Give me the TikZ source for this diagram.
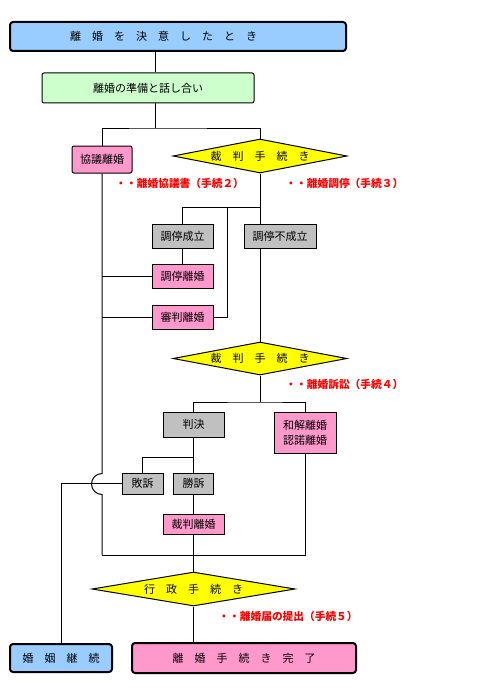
\documentclass[tikz,border=0pt]{standalone}
\usepackage{fontspec}
\setmainfont{Noto Sans CJK JP}
\usepackage{tikz}
\usetikzlibrary{
  shapes.geometric,
  positioning
}
\definecolor{divBlue}{RGB}{153,204,255}
\definecolor{divGreen}{RGB}{204,255,204}
\definecolor{divPink}{RGB}{255,153,204}
\definecolor{divGray}{RGB}{192,192,192}
\definecolor{divYellow}{RGB}{255,255,0}
\definecolor{divRed}{RGB}{255,0,0}

\begin{document}
\begin{tikzpicture}[
  x=1pt, y=1pt,
  line width=1pt,
  block/.style={
    draw,
    line width=1pt,
    inner sep=0pt,
    align=center,
    font=\fontsize{11}{15}\selectfont
  },
  endbox/.style={block, rounded corners=3pt, line width=2pt},
  softbox/.style={block, rounded corners=2pt},
  graybox/.style={block, fill=divGray},
  pinkbox/.style={block, fill=divPink},
  decision/.style={
    diamond,
    draw,
    line width=1pt,
    fill=divYellow,
    aspect=5,
    inner sep=0pt,
    minimum width=174pt,
    minimum height=34pt,
    font=\fontsize{11}{15}\selectfont
  },
  note/.style={
    anchor=west,
    inner sep=0pt,
    text=divRed,
    font=\fontsize{10.7}{12}\selectfont\bfseries
  }
]
\useasboundingbox (0,0) rectangle (480,-690);

\node[endbox, fill=divBlue, minimum width=336pt, minimum height=29pt] (start)
  at (178,-36.5) {\hspace*{-29pt}離　婚　を　決　意　し　た　と　き};
\node[softbox, fill=divGreen, minimum width=212pt, minimum height=30pt] (prep)
  at (148,-88) {離婚の準備と話し合い};
\node[softbox, fill=divPink, minimum width=60pt, minimum height=27pt] (kyogi)
  at (102,-159.5) {協議離婚};
\node[decision] (trial1) at (260,-156) {裁　判　手　続　き};

\node[graybox, minimum width=61pt, minimum height=24pt] (choteiok)
  at (182.5,-236) {調停成立};
\node[graybox, minimum width=72pt, minimum height=24pt] (choteing)
  at (280,-236) {調停不成立};
\node[pinkbox, minimum width=61pt, minimum height=24pt] (choteirikon)
  at (182.5,-276) {調停離婚};
\node[pinkbox, minimum width=61pt, minimum height=24pt] (shinpan)
  at (182.5,-317) {審判離婚};

\node[decision, minimum height=33pt] (trial2) at (260,-358.5) {裁　判　手　続　き};

\node[graybox, minimum width=61pt, minimum height=25pt] (hanketsu)
  at (193.5,-424.5) {判決};
\node[pinkbox, minimum width=62pt, minimum height=41pt] (wakai)
  at (305,-432.5) {和解離婚\\認諾離婚};
\node[graybox, minimum width=41pt, minimum height=21pt] (haiso)
  at (142.5,-483.5) {敗訴};
\node[graybox, minimum width=40pt, minimum height=21pt] (shoso)
  at (193.5,-483.5) {勝訴};
\node[pinkbox, minimum width=61pt, minimum height=20pt] (saiban)
  at (193.5,-524) {裁判離婚};

\node[decision, aspect=6, minimum width=203pt] (admin) at (193.5,-589) {行　政　手　続　き};

\node[endbox, fill=divBlue, minimum width=102pt, minimum height=28pt] (keizoku)
  at (61,-658) {婚　姻　継　続};
\node[endbox, fill=divPink, minimum width=224pt, minimum height=30pt] (kanryo)
  at (244,-658) {離　婚　手　続　き　完　了};

\node[note] (note2) at (115,-183) {・・離婚協議書（手続２）};
\node[note] (note3) at (285,-183) {・・離婚調停（手続３）};
\node[note] (note4) at (285,-384) {・・離婚訴訟（手続４）};
\node[note] (note5) at (218,-616) {・・離婚届の提出（手続５）};

\coordinate (j1) at (155,-128);
\coordinate (j2) at (260,-207);
\coordinate (j3) at (227,-207);
\coordinate (j4) at (260,-402);
\coordinate (j5) at (193.5,-457);
\coordinate (j6) at (102,-555);

\draw (start.south -| j1) -- (prep.north -| j1);
\draw (prep.south -| j1) -- (j1);
\draw (kyogi.north) |- (j1) -| (trial1.north);
\draw (trial1.south) -- (choteing.north -| trial1.south);
\draw (j2) -| (choteiok.north);
\draw (choteiok) -- (choteirikon);
\draw (shinpan.east) -| (j3);
\draw (choteing.south -| trial2.north) -- (trial2.north);
\draw (kyogi.south) -- (102,-473.5) arc[start angle=90, end angle=270, radius=10.5] -- (j6);
\draw (kyogi.south |- choteirikon.west) -- (choteirikon.west);
\draw (kyogi.south |- shinpan.west) -- (shinpan.west);
\draw (trial2.south) -- (j4);
\draw (hanketsu.north) |- (j4) -| (wakai.north);
\draw (hanketsu) -- (shoso);
\draw (haiso.north) |- (j5);
\draw (haiso.west) -| (keizoku.north);
\draw (shoso) -- (saiban);
\draw (saiban) -- (admin);
\draw (wakai.south) |- (j6);
\draw (admin.south) -- (kanryo.north -| admin.south);

\end{tikzpicture}
\end{document}
